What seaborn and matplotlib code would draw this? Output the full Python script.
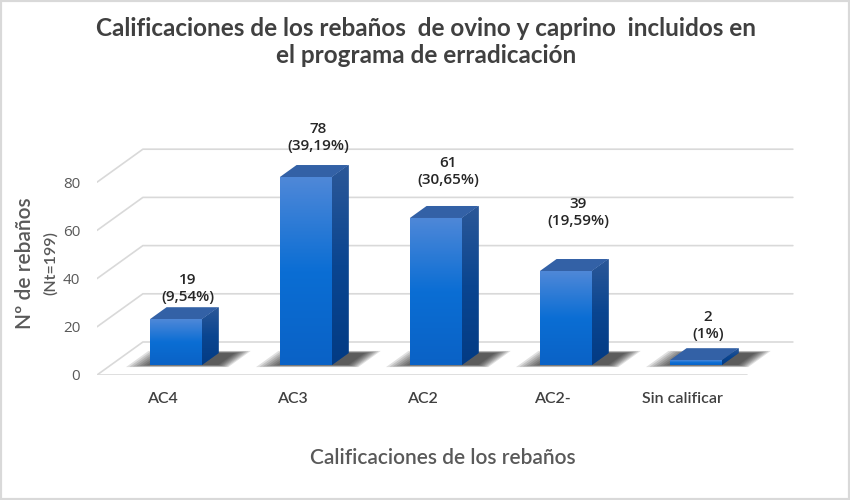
import numpy as np
import matplotlib.pyplot as plt
import seaborn as sns
from matplotlib.patches import Polygon, Rectangle
from matplotlib.colors import LinearSegmentedColormap

# datos
categorias = ['AC4', 'AC3', 'AC2', 'AC2-', 'Sin calificar']
rebanos = [19, 78, 61, 39, 2]
porcentajes = ['9,54%', '39,19%', '30,65%', '19,59%', '1%']
y_ticks = [0, 20, 40, 60, 80]

sns.set_theme(style='white')
plt.rcParams['font.family'] = ['Open Sans', 'DejaVu Sans']
NARROW = ['Lato', 'DejaVu Sans']

# fake 3D geometry (pixels -> data units)
PX_CAT = 130.0
PX_VAL = 2.41
SLOPE = 1.39
KX = SLOPE / PX_CAT
KY = 1 / PX_VAL
D_BAR0, D_BAR1, D_BACK = 10, 22, 33
label_gap = [3, 12, 19, 31, 7]


def proj(x, v, d):
    return x + (d - D_BAR0) * KX, v + (d - D_BAR0) * KY


fig = plt.figure(figsize=(8.5, 5), dpi=100)
fig.patches.append(Rectangle((0, 0), 1, 1, transform=fig.transFigure, fill=False,
                             edgecolor='#d9d9d9', lw=3))
ax = fig.add_axes([97 / 850, (500 - 375) / 500, (800 - 97) / 850, (375 - 95) / 500])

sns.barplot(x=categorias, y=rebanos, width=0.4, color='#0a6ad0', saturation=1,
            ax=ax, zorder=4, linewidth=0)


def fill_gradient(patch, colors, extent, z):
    cmap = LinearSegmentedColormap.from_list('g', colors)
    grad = np.linspace(0, 1, 256).reshape(-1, 1)
    im = ax.imshow(grad, cmap=cmap, extent=extent, origin='lower', aspect='auto',
                   zorder=z, interpolation='bilinear')
    im.set_clip_path(patch)


# walls and floor
for v in y_ticks:
    xa, ya = proj(-0.5, v, 0)
    xb, yb = proj(-0.5, v, D_BACK)
    xc, yc = proj(4.5, v, D_BACK)
    ax.plot([xa, xb, xc], [ya, yb, yc], color='#d9d9d9', lw=1.2, zorder=0)
xa, ya = proj(-0.5, 0, 0)
xc, yc = proj(4.5, 0, 0)
ax.plot([xa, xc], [ya, yc], color='#d9d9d9', lw=1.2, zorder=0)

bdx = (D_BAR1 - D_BAR0) * KX
bdy = (D_BAR1 - D_BAR0) * KY
for patch, val, pct, gap in zip(ax.patches[:len(rebanos)], rebanos, porcentajes, label_gap):
    x0 = patch.get_x()
    w = patch.get_width()
    x1 = x0 + w
    h = patch.get_height()

    # blurred shadow on the floor
    for k in range(8):
        xs0 = x0 - (3.0 * k) / PX_CAT
        xs1 = x1 + bdx + (1.8 * k) / PX_CAT
        d0 = 10 - 0.3 * k
        d1 = 22 + 0.3 * k
        sh = Polygon([proj(xs0, 0, d0), proj(xs1, 0, d0), proj(xs1, 0, d1), proj(xs0, 0, d1)],
                     closed=True, facecolor='#111111', edgecolor='none', alpha=0.13, zorder=1)
        ax.add_patch(sh)

    side = Polygon([(x1, 0), (x1 + bdx, bdy), (x1 + bdx, h + bdy), (x1, h)], closed=True,
                   facecolor='#0a4590', edgecolor='none', zorder=3)
    ax.add_patch(side)
    fill_gradient(side, ['#033b84', '#0a4590', '#2c5898'], [x1, x1 + bdx, 0, h + bdy], 3)

    top = Polygon([(x0, h), (x1, h), (x1 + bdx, h + bdy), (x0 + bdx, h + bdy)], closed=True,
                  facecolor='#3361a6', edgecolor='none', zorder=3)
    ax.add_patch(top)

    fill_gradient(patch, ['#0a62c6', '#0b6ed4', '#4f88d8'], [x0, x1, 0, h], 4)

    ax.text(x0 + w / 2 + 12 / PX_CAT, h + bdy + gap * KY, f'{val}\n({pct})',
            ha='center', va='bottom', fontsize=11, color='#262626',
            fontweight='semibold', linespacing=1.3, zorder=6)

ax.set_xlim(xa, xa + (800 - 97) / PX_CAT)
y_lo = proj(0, 0, 0)[1]
ax.set_ylim(y_lo, y_lo + (375 - 95) / PX_VAL)

ax.set_yticks([proj(0, v, 0)[1] for v in y_ticks], [str(v) for v in y_ticks])
ax.set_xticks([proj(i, 0, 0)[0] for i in range(len(categorias))], categorias)
ax.tick_params(axis='y', length=0, pad=12, labelsize=11, labelcolor='#595959')
ax.tick_params(axis='x', length=0, pad=12, labelsize=11.5, labelcolor='#404040')
for t in ax.get_xticklabels():
    t.set_family(NARROW)
    t.set_fontweight('semibold')
for sp in ax.spines.values():
    sp.set_visible(False)
ax.set_xlabel('')
ax.set_ylabel('')
ax.grid(False)

fig.text(426 / 850, 1 - 42 / 500, 'Calificaciones de los rebaños  de ovino y caprino  incluidos en\nel programa de erradicación',
         ha='center', va='center', fontsize=17.5, fontweight='bold', color='#404040',
         family=NARROW, linespacing=1.25)
fig.text(443 / 850, 1 - 458 / 500, 'Calificaciones de los rebaños', ha='center', va='center',
         fontsize=15, color='#595959', family=NARROW, fontweight='semibold')
fig.text(25 / 850, 1 - 263 / 500, 'Nº de rebaños', ha='center', va='center', rotation=90,
         fontsize=15, color='#595959', family=NARROW, fontweight='semibold')
fig.text(51 / 850, 1 - 263 / 500, '(Nt=199)', ha='center', va='center', rotation=90,
         fontsize=11.5, color='#595959', family=NARROW, fontweight='semibold')

fig.savefig('out.png', dpi=100)
